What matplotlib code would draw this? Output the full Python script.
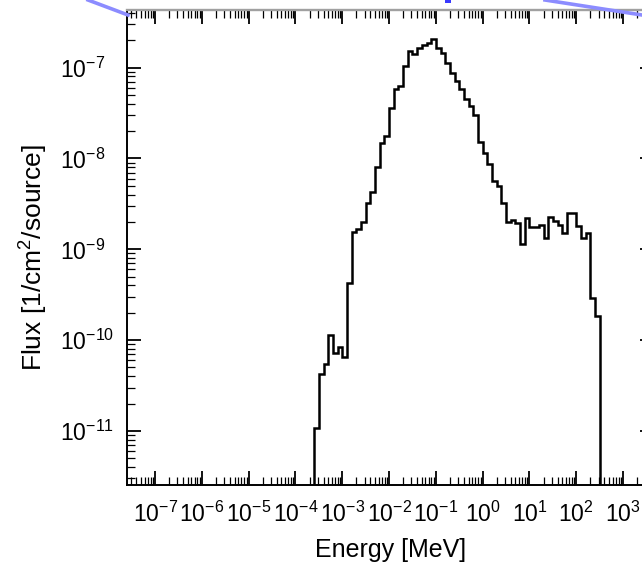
import numpy as np
import matplotlib
matplotlib.use('Agg')
import matplotlib.pyplot as plt
from matplotlib.ticker import LogLocator, NullFormatter, FixedLocator, LogFormatterSciNotation
from matplotlib.lines import Line2D
from matplotlib.patches import Rectangle

plt.rcParams['font.family'] = ['Liberation Sans', 'DejaVu Sans']
plt.rcParams['mathtext.fontset'] = 'custom'
plt.rcParams['mathtext.rm'] = 'Liberation Sans'
plt.rcParams['mathtext.it'] = 'Liberation Sans:italic'
plt.rcParams['mathtext.bf'] = 'Liberation Sans:bold'

# ---------------- data ----------------
# histogram with 10 log bins per decade, from 10^-3.6 MeV to 10^2.5 MeV
log_energy_first_edge = -3.6
log_energy_last_edge = 2.5
flux = [
    1.07e-11, 4.2e-11, 5.5e-11, 1.13e-10, 7.3e-11, 8.3e-11, 6.6e-11,
    4.25e-10, 1.55e-9, 1.67e-9, 2.0e-9,
    3.27e-9, 4.24e-9, 8.05e-9, 1.49e-8, 1.77e-8, 3.57e-8, 5.87e-8, 6.28e-8,
    1.05e-7, 1.54e-7, 1.42e-7, 1.63e-7, 1.78e-7, 1.89e-7, 2.09e-7,
    1.63e-7, 1.44e-7, 1.12e-7, 8.67e-8, 7.14e-8, 5.78e-8, 4.52e-8, 3.78e-8,
    3.01e-8, 1.53e-8, 1.14e-8, 8.69e-9, 5.70e-9, 4.98e-9, 3.21e-9,
    2.01e-9, 2.10e-9, 1.96e-9, 1.14e-9, 2.19e-9, 1.77e-9, 1.75e-9, 1.85e-9,
    1.32e-9, 2.29e-9, 2.07e-9, 1.85e-9, 1.50e-9, 2.49e-9, 2.49e-9, 1.81e-9,
    1.32e-9, 1.52e-9, 2.88e-10, 1.86e-10,
]
energy_edges = np.logspace(log_energy_first_edge, log_energy_last_edge, len(flux) + 1)

x_major_ticks = [1e-7, 1e-6, 1e-5, 1e-4, 1e-3, 1e-2, 1e-1, 1e0, 1e1, 1e2, 1e3]
y_major_ticks = [1e-11, 1e-10, 1e-9, 1e-8, 1e-7]
x_limits = (10 ** -7.6, 10 ** 3.65)
y_limits = (10 ** -11.595, 10 ** -6.365)
x_title = 'Energy [MeV]'
y_title = 'Flux [1/cm$^{2}$/source]'

# ---------------- figure ----------------
W, H = 642, 565
fig = plt.figure(figsize=(W / 100, H / 100), dpi=100)
ax_left, ax_top, ax_bottom, ax_right = 127, 10, 485, 653.5
ax = fig.add_axes([ax_left / W, 1 - ax_bottom / H,
                   (ax_right - ax_left) / W, (ax_bottom - ax_top) / H])

ax.stairs(flux, energy_edges, baseline=y_limits[0], color='black', lw=1.8)

ax.set_xscale('log')
ax.set_yscale('log')
ax.set_xlim(*x_limits)
ax.set_ylim(*y_limits)

ax.xaxis.set_major_locator(FixedLocator(x_major_ticks))
ax.yaxis.set_major_locator(FixedLocator(y_major_ticks))
for axis in (ax.xaxis, ax.yaxis):
    axis.set_major_formatter(LogFormatterSciNotation())
    axis.set_minor_locator(LogLocator(base=10, subs=np.arange(2, 10), numticks=400))
    axis.set_minor_formatter(NullFormatter())

ax.tick_params(which='both', direction='in', top=True, right=True, color='black')
ax.tick_params(which='major', length=10, width=1.3)
ax.tick_params(which='minor', length=5.5, width=0.9)
ax.tick_params(axis='x', which='major', labelsize=16.5, pad=12)
ax.tick_params(axis='y', which='major', labelsize=16.5, pad=48)
for t in ax.yaxis.get_major_ticks():
    t.label1.set_horizontalalignment('left')

for s in ('left', 'bottom', 'right'):
    ax.spines[s].set_color('black')
    ax.spines[s].set_linewidth(1.4)
ax.spines['top'].set_color('#a0a0a0')
ax.spines['top'].set_linewidth(1.7)

fig.text(391 / W, 1 - 557 / H, x_title, ha='center', va='baseline', fontsize=18)
fig.text(34 / W, 1 - 258 / H, y_title, ha='center', va='center', rotation=90, fontsize=19)

# slide decoration lines (light blue) cut by the crop
fig.add_artist(Line2D([88 / W, 128 / W], [1 - 0 / H, 1 - 15 / H],
                      transform=fig.transFigure, color='#8c8cff', lw=2.6))
fig.add_artist(Line2D([545 / W, 642 / W], [1 - 0 / H, 1 - 15 / H],
                      transform=fig.transFigure, color='#8c8cff', lw=2.6))
fig.add_artist(Rectangle((445 / W, 1 - 3 / H), 6 / W, 3 / H,
                         transform=fig.transFigure, color='#3a3aff', lw=0))

fig.savefig('out.png', dpi=100)
